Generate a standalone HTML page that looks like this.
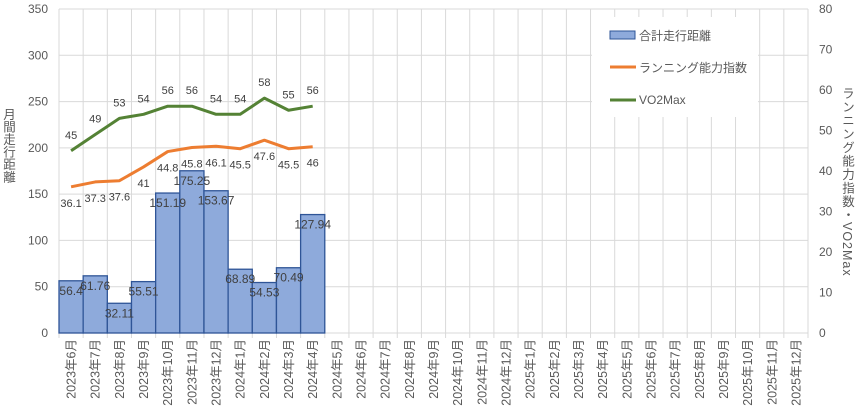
<!DOCTYPE html>
<html><head><meta charset="utf-8"><style>
body{margin:0;background:#fff;font-family:"Liberation Sans","Noto Sans CJK JP",sans-serif;}
svg text{font-family:"Liberation Sans","Noto Sans CJK JP",sans-serif;}
</style></head><body>
<svg id="c" width="861" height="409" xmlns="http://www.w3.org/2000/svg">
<rect width="861" height="409" fill="#fff"/>
</svg>
<script>
const categories=["2023年6月","2023年7月","2023年8月","2023年9月","2023年10月","2023年11月","2023年12月","2024年1月","2024年2月","2024年3月","2024年4月","2024年5月","2024年6月","2024年7月","2024年8月","2024年9月","2024年10月","2024年11月","2024年12月","2025年1月","2025年2月","2025年3月","2025年4月","2025年5月","2025年6月","2025年7月","2025年8月","2025年9月","2025年10月","2025年11月","2025年12月"];
const distance=[56.4,61.76,32.11,55.51,151.19,175.25,153.67,68.89,54.53,70.49,127.94];
const runIndex=[36.1,37.3,37.6,41,44.8,45.8,46.1,45.5,47.6,45.5,46];
const vo2max=[45,49,53,54,56,56,54,54,58,55,56];
const leftTicks=[0,50,100,150,200,250,300,350];
const rightTicks=[0,10,20,30,40,50,60,70,80];
const NS="http://www.w3.org/2000/svg";
const svg=document.getElementById('c');
const X0=59,X1=808,Y0=333,Y1=9;
const bw=(X1-X0)/categories.length;
const yL=v=>Y0-(v/350)*(Y0-Y1);
const yR=v=>Y0-(v/80)*(Y0-Y1);
const xC=i=>X0+bw*(i+0.5);
function mk(t,a,txt){const e=document.createElementNS(NS,t);for(const k in a)e.setAttribute(k,a[k]);if(txt!==undefined)e.textContent=txt;svg.appendChild(e);return e;}
leftTicks.forEach(v=>{const l=mk('line',{x1:X0,x2:X1,y1:yL(v),y2:yL(v),stroke:'#d9d9d9','stroke-width':1});


const t=mk('text',{x:48,y:yL(v)+4,'text-anchor':'end','font-size':12,fill:'#595959'},v);

});
rightTicks.forEach(v=>{const t=mk('text',{x:819,y:yR(v)+4,'font-size':12,fill:'#595959'},v);

});
for(let i=0;i<=categories.length;i++){const x=X0+bw*i;const l=mk('line',{x1:x,x2:x,y1:Y1,y2:Y0+5,stroke:'#d9d9d9','stroke-width':1});

}
categories.forEach((c,i)=>{const x=xC(i);const t=mk('text',{x:0,y:0,'text-anchor':'end','font-size':12.5,fill:'#595959',transform:`translate(${x+4.5},339) rotate(-90)`},c);

});
distance.forEach((v,i)=>{const r=mk('rect',{x:X0+bw*i,y:yL(v),width:bw,height:Y0-yL(v),fill:'#8eaadb',stroke:'#2f5597','stroke-width':1.3});

});
distance.forEach((v,i)=>{const t=mk('text',{x:xC(i),y:yL(v)+14,'text-anchor':'middle','font-size':12,fill:'#404040'},v);

});
function line(arr,col,name,dy){const p=mk('polyline',{points:arr.map((v,i)=>xC(i)+','+yR(v)).join(' '),fill:'none',stroke:col,'stroke-width':3,'stroke-linejoin':'round'});


arr.forEach((v,i)=>{const t=mk('text',{x:xC(i),y:yR(v)+dy,'text-anchor':'middle','font-size':11,fill:'#404040'},v);

});}
line(runIndex,'#ed7d31','running-index-line',20);
line(vo2max,'#548235','vo2max-line',-12);
const lt=mk('text',{x:8,y:108,'font-size':12.5,fill:'#595959','writing-mode':'vertical-rl','glyph-orientation-vertical':0},'月間走行距離');


const rt=mk('text',{x:847,y:87,'font-size':12.5,fill:'#595959','writing-mode':'vertical-rl','letter-spacing':1},'ランニング能力指数・VO2Max');


const lg=mk('rect',{x:592,y:17,width:166,height:100,fill:'#fff'});


const lb=mk('rect',{x:610,y:31,width:25,height:8,fill:'#8eaadb',stroke:'#2f5597','stroke-width':1});


const lo=mk('line',{x1:610,x2:636,y1:67,y2:67,stroke:'#ed7d31','stroke-width':3});


const lv=mk('line',{x1:610,x2:636,y1:100,y2:100,stroke:'#548235','stroke-width':3});


[['合計走行距離',40,'legend-entry-distance'],['ランニング能力指数',72,'legend-entry-running-index'],['VO2Max',104,'legend-entry-vo2max']].forEach(a=>{const t=mk('text',{x:639,y:a[1],'font-size':12,fill:'#595959'},a[0]);

});
</script>
</body></html>
